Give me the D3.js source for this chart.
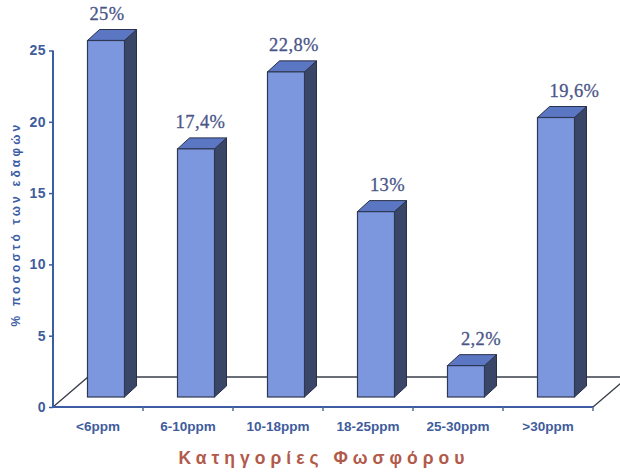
<!DOCTYPE html>
<html>
<head>
<meta charset="utf-8">
<script src="https://cdn.jsdelivr.net/npm/d3@7"></script>
<style>
  html, body { margin: 0; padding: 0; background: #ffffff; }
  svg { display: block; }
</style>
</head>
<body>
<svg id="chart" width="620" height="472"></svg>
<script>
// ---- data ----
const categories = ["<6ppm", "6-10ppm", "10-18ppm", "18-25ppm", "25-30ppm", ">30ppm"];
const values = [25, 17.4, 22.8, 13, 2.2, 19.6];
const valueLabels = ["25%", "17,4%", "22,8%", "13%", "2,2%", "19,6%"];
const yTicks = [0, 5, 10, 15, 20, 25];
const yTitle = "% ποσοστό των εδαφών";
const xTitle = "Κατηγορίες Φωσφόρου";

(function () {
// ---- layout ----
const svg = d3.select("#chart");
const plotLeft = 53, plotRight = 593, plotBottom = 407, plotTop = 50.5;
const depthX = 35, depthY = -30;        // floor depth
const barDX = 12, barDY = -11;          // bar depth
const frontLift = 10;                   // bar front plane lifted from axis plane
const barW = 37;

const x = d3.scaleBand().domain(categories).range([plotLeft, plotRight]).padding(0);
const y = d3.scaleLinear().domain([0, 25]).range([plotBottom, plotTop]);

const blueAxis = "#3c5ca4";
const labelBlue = "#3f5c9c";

// floor
const g = svg.append("g");
g.append("path")
  .attr("d", `M${plotLeft},${plotBottom} L${plotLeft + depthX},${plotBottom + depthY} L${plotRight + depthX},${plotBottom + depthY} L${plotRight},${plotBottom}`)
  .attr("fill", "none").attr("stroke", "#3a3f4a").attr("stroke-width", 1.3);

// bars
const bars = g.selectAll("g.bar").data(values).enter().append("g").attr("class", "bar");
bars.each(function(v, i) {
  const sel = d3.select(this);
  const cx = x(categories[i]) + x.bandwidth() / 2 + 8;
  const x0 = cx - barW / 2, x1 = cx + barW / 2;
  const yb = y(0) - frontLift, yt = y(v) - frontLift;
  sel.append("path")
    .attr("d", `M${x1},${yb} L${x1 + barDX},${yb + barDY} L${x1 + barDX},${yt + barDY} L${x1},${yt} Z`)
    .attr("fill", "#3a4668").attr("stroke", "#2a3148").attr("stroke-width", 1);
  sel.append("path")
    .attr("d", `M${x0},${yt} L${x0 + barDX},${yt + barDY} L${x1 + barDX},${yt + barDY} L${x1},${yt} Z`)
    .attr("fill", "#5b76c2").attr("stroke", "#2a3148").attr("stroke-width", 1);
  sel.append("rect")
    .attr("x", x0).attr("y", yt).attr("width", barW).attr("height", yb - yt)
    .attr("fill", "#7c97de").attr("stroke", "#2f3852").attr("stroke-width", 1.2);
  sel.append("text")
    .attr("x", x(categories[i]) + x.bandwidth() / 2 + 9 + i * 3.5)
    .attr("y", yt - 21)
    .attr("text-anchor", "middle")
    .attr("font-family", "'Liberation Serif', 'Times New Roman', serif")
    .attr("font-size", 18.5)
    .attr("letter-spacing", 0.4)
    .attr("fill", "#4a5688")
    .attr("stroke", "#4a5688").attr("stroke-width", 0.3)
    .text(valueLabels[i]);
});

// y axis
const yAxis = svg.append("g").attr("transform", `translate(${plotLeft},0)`)
  .call(d3.axisLeft(y).tickValues(yTicks).tickSize(4).tickPadding(3).tickFormat(d3.format("d")));
yAxis.select(".domain").attr("stroke", blueAxis).attr("stroke-width", 2).attr("d", `M0,${plotTop}V${plotBottom}`);
yAxis.selectAll(".tick line").attr("stroke", blueAxis).attr("stroke-width", 1.5);
yAxis.selectAll(".tick text")
  .attr("fill", labelBlue)
  .attr("font-family", "'Liberation Sans', Arial, sans-serif")
  .attr("font-weight", "bold")
  .attr("font-size", 14)
  .attr("letter-spacing", 0.5);

// x axis
const xAxis = svg.append("g").attr("transform", `translate(0,${plotBottom})`)
  .call(d3.axisBottom(x).tickSize(0).tickPadding(14));
xAxis.select(".domain").attr("stroke", blueAxis).attr("stroke-width", 2.2).attr("d", `M${plotLeft},0H${plotRight}`);
xAxis.selectAll(".tick text")
  .attr("fill", labelBlue)
  .attr("font-family", "'Liberation Sans', Arial, sans-serif")
  .attr("font-weight", "bold")
  .attr("font-size", 13.5);
xAxis.selectAll("line.bound").data(categories).enter().append("line")
  .attr("class", "bound")
  .attr("x1", (d, i) => plotLeft + x.bandwidth() * (i + 1))
  .attr("x2", (d, i) => plotLeft + x.bandwidth() * (i + 1))
  .attr("y1", 0).attr("y2", 4)
  .attr("stroke", "#5a6a90").attr("stroke-width", 1.5);

// y title
svg.append("text")
  .attr("transform", `translate(20,224) rotate(-90)`)
  .attr("text-anchor", "middle")
  .attr("font-family", "'Liberation Sans', Arial, sans-serif")
  .attr("font-weight", "bold")
  .attr("font-size", 12)
  .attr("letter-spacing", 3.2)
  .attr("fill", "#3c5ca4")
  .text(yTitle);

// x title
svg.append("text")
  .attr("x", 324).attr("y", 464)
  .attr("text-anchor", "middle")
  .attr("font-family", "'Liberation Sans', Arial, sans-serif")
  .attr("font-weight", "bold")
  .attr("font-size", 17.5)
  .attr("letter-spacing", 5)
  .attr("fill", "#b25a4a")
  .text(xTitle);
})();
</script>
</body>
</html>
